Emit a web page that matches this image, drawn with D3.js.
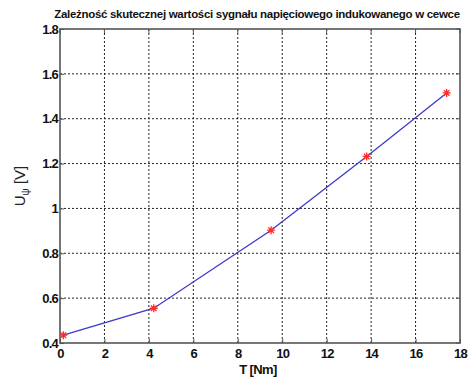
<!DOCTYPE html>
<html>
<head>
<meta charset="utf-8">
<script src="https://cdn.jsdelivr.net/npm/d3@7"></script>
<style>
  body { margin: 0; background: #fff; }
  svg { display: block; font-family: "Liberation Sans", Arial, sans-serif; }
</style>
</head>
<body>
<div id="chart"></div>
<script>
const torque = [0.15, 4.22, 9.5, 13.8, 17.4];
const voltage = [0.435, 0.555, 0.903, 1.232, 1.515];
const xTicks = [0, 2, 4, 6, 8, 10, 12, 14, 16, 18];
const yTicks = [0.4, 0.6, 0.8, 1, 1.2, 1.4, 1.6, 1.8];
const title = "Zależność skutecznej wartości sygnału napięciowego indukowanego w cewce";

const width = 468;
const height = 379;
const plotLeft = 60, plotRight = 460, plotTop = 29, plotBottom = 343;

const svg = d3.select('#chart')
  .append('svg')
  .attr('width', width)
  .attr('height', height);

const x = d3.scaleLinear().domain([0, 18]).range([plotLeft, plotRight]);
const y = d3.scaleLinear().domain([0.4, 1.8]).range([plotBottom, plotTop]);

// grid
svg.append('g')
  .selectAll('line')
  .data(xTicks.slice(1, -1))
  .enter().append('line')
  .attr('x1', d => x(d)).attr('x2', d => x(d))
  .attr('y1', plotTop).attr('y2', plotBottom)
  .attr('stroke', '#222').attr('stroke-width', 1)
  .attr('stroke-dasharray', '2,2');

svg.append('g')
  .selectAll('line')
  .data(yTicks.slice(1, -1))
  .enter().append('line')
  .attr('y1', d => y(d)).attr('y2', d => y(d))
  .attr('x1', plotLeft).attr('x2', plotRight)
  .attr('stroke', '#222').attr('stroke-width', 1)
  .attr('stroke-dasharray', '2,2');

// axes with inward ticks
const xAxis = d3.axisBottom(x).tickValues(xTicks).tickSize(-4).tickFormat(d3.format('d'));
const yAxis = d3.axisLeft(y).tickValues(yTicks).tickSize(-4).tickFormat(d => d === 1 ? '1' : d3.format('.1f')(d));

const gx = svg.append('g')
  .attr('transform', `translate(0,${plotBottom})`)
  .call(xAxis);
const gy = svg.append('g')
  .attr('transform', `translate(${plotLeft},0)`)
  .call(yAxis);

[gx, gy].forEach(g => {
  g.select('.domain').remove();
  g.selectAll('.tick line').attr('stroke', '#555').attr('stroke-width', 1);
  g.selectAll('.tick text')
    .attr('fill', '#111')
    .style('font-size', '13px')
    .style('font-weight', 'bold')
    .style('letter-spacing', '-0.8px');
});
gx.selectAll('.tick text').attr('dy', '1em').attr('y', 2);
gy.selectAll('.tick text').attr('x', -2);

// top/right inward ticks
svg.append('g')
  .selectAll('line')
  .data(xTicks)
  .enter().append('line')
  .attr('x1', d => x(d)).attr('x2', d => x(d))
  .attr('y1', plotTop).attr('y2', plotTop + 4)
  .attr('stroke', '#555');
svg.append('g')
  .selectAll('line')
  .data(yTicks)
  .enter().append('line')
  .attr('y1', d => y(d)).attr('y2', d => y(d))
  .attr('x1', plotRight - 4).attr('x2', plotRight)
  .attr('stroke', '#555');

// box
svg.append('rect')
  .attr('x', plotLeft).attr('y', plotTop)
  .attr('width', plotRight - plotLeft).attr('height', plotBottom - plotTop)
  .attr('fill', 'none')
  .attr('stroke', '#555')
  .attr('stroke-width', 1.6);

// line
const pts = torque.map((t, i) => [t, voltage[i]]);
svg.append('path')
  .datum(pts)
  .attr('fill', 'none')
  .attr('stroke', '#3a3ac8')
  .attr('stroke-width', 1.3)
  .attr('d', d3.line().x(d => x(d[0])).y(d => y(d[1])));

// asterisk markers
const s = 4;
svg.append('g')
  .selectAll('path')
  .data(pts)
  .enter().append('path')
  .attr('transform', d => `translate(${x(d[0])},${y(d[1])})`)
  .attr('d', `M${-s},0H${s}M0,${-s}V${s}M${-s*0.7},${-s*0.7}L${s*0.7},${s*0.7}M${-s*0.7},${s*0.7}L${s*0.7},${-s*0.7}`)
  .attr('stroke', '#ff2a2a')
  .attr('stroke-width', 1.3)
  .attr('fill', 'none');

// title
svg.append('text')
  .attr('x', 257).attr('y', 18)
  .attr('text-anchor', 'middle')
  .style('font-size', '11.5px')
  .style('font-weight', 'bold')
  .style('letter-spacing', '-0.3px')
  .attr('fill', '#111')
  .text(title);

// x label
svg.append('text')
  .attr('x', 258).attr('y', 374)
  .attr('text-anchor', 'middle')
  .style('font-size', '13px')
  .style('font-weight', 'bold')
  .style('letter-spacing', '-0.6px')
  .attr('fill', '#111')
  .text('T [Nm]');

// y label
const yl = svg.append('text')
  .attr('transform', 'translate(25,186) rotate(-90)')
  .attr('text-anchor', 'middle')
  .style('font-size', '15px')
  .attr('fill', '#222');
yl.append('tspan').text('U');
yl.append('tspan').attr('dy', 4).style('font-size', '10px').text('ψ');
yl.append('tspan').attr('dy', -4).text(' [V]');
</script>
</body>
</html>
